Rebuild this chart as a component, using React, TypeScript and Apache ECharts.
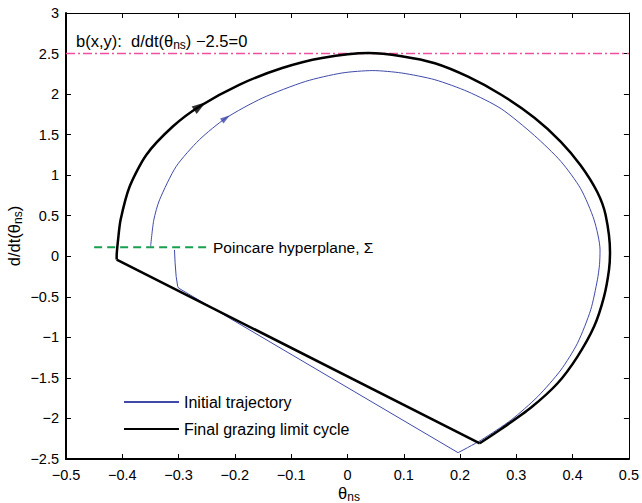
import React, { useEffect, useRef } from "react";
import * as echarts from "echarts";

// Final grazing limit cycle: curved arc (clockwise from bottom corner to left corner)
const limitArcX = [0.235, 0.2731, 0.3262, 0.3733, 0.4086, 0.4381, 0.4558, 0.4646, 0.4664, 0.4586, 0.444, 0.4144, 0.3791, 0.3321, 0.2731, 0.2142, 0.1553, 0.0963, 0.0374, -0.0452, -0.1159, -0.1924, -0.2631, -0.3103, -0.3574, -0.3869, -0.403, -0.4075, -0.41, -0.41];
const limitArcY = [-2.306, -2.13, -1.865, -1.566, -1.237, -0.867, -0.497, -0.168, 0.051, 0.508, 0.789, 1.119, 1.412, 1.708, 1.992, 2.214, 2.38, 2.467, 2.506, 2.445, 2.321, 2.115, 1.847, 1.6, 1.25, 0.86, 0.45, 0.203, 0.0, -0.04];
// Final grazing limit cycle: straight reset segment
const limitChordX = [-0.41, 0.235];
const limitChordY = [-0.04, -2.306];

// Initial trajectory: curved arc from the Poincare section around to the bottom corner
const trajArcX = [-0.3497, -0.344, -0.3338, -0.3043, -0.2631, -0.2159, -0.1512, -0.0746, -0.0098, 0.045, 0.0963, 0.1553, 0.2142, 0.2731, 0.332, 0.3791, 0.4144, 0.4381, 0.4487, 0.4478, 0.444, 0.4321, 0.4086, 0.3791, 0.3379, 0.2908, 0.2378, 0.1965];
const trajArcY = [0.121, 0.449, 0.696, 1.107, 1.437, 1.704, 1.951, 2.156, 2.26, 2.29, 2.26, 2.177, 2.029, 1.819, 1.49, 1.17, 0.832, 0.449, 0.076, -0.1, -0.291, -0.661, -1.072, -1.402, -1.731, -2.018, -2.265, -2.422];
// Initial trajectory: straight segment and short tail
const trajTailX = [0.1965, -0.2997, -0.3015, -0.3043, -0.3062, -0.3073];
const trajTailY = [-2.422, -0.394, -0.374, -0.25, -0.08, 0.079];

// Reference lines
const boundaryX = [-0.5, 0.5];
const boundaryY = [2.5, 2.5];
const poincareX = [-0.45, -0.25];
const poincareY = [0.11, 0.11];

// Direction arrows
const arrowBlackX = [-0.262];
const arrowBlackY = [1.85];
const arrowBlueX = [-0.216];
const arrowBlueY = [1.704];

const seriesNames = ["Initial trajectory", "Final grazing limit cycle"];

const FONT = "'Liberation Sans', Arial, Helvetica, sans-serif";
const BLUE = "#3f4aa8";
const PINK = "#ee4fa0";

const zip = (xs: number[], ys: number[]) => xs.map((x, i) => [x, ys[i]]);

const fmt = (v: number) => {
  const r = Math.round(v * 10) / 10;
  return r < 0 ? "\u2212" + String(-r) : String(r);
};

export default function App() {
  const ref = useRef<HTMLDivElement>(null);
  useEffect(() => {
    if (!ref.current) return;
    const chart = echarts.init(ref.current, undefined, { renderer: "svg" });
    const axisCommon = {
      type: "value" as const,
      splitLine: { show: false },
      axisTick: { show: true, inside: true, length: 5, lineStyle: { color: "#000", width: 1 } },
    };
    const rich = {
      a: { fontSize: 16.5, fontFamily: FONT, color: "#000" },
      s: { fontSize: 12, fontFamily: FONT, color: "#000", padding: [7, 0, 0, 0] },
    };
    chart.setOption({
      animation: false,
      backgroundColor: "#fff",
      textStyle: { fontFamily: FONT },
      grid: { left: 66, right: 10, top: 13, bottom: 44, containLabel: false },
      xAxis: [
        {
          ...axisCommon,
          min: -0.5,
          max: 0.5,
          interval: 0.1,
          position: "bottom",
          axisLine: { show: true, onZero: false, lineStyle: { color: "#000", width: 2 } },
          axisLabel: { show: true, color: "#000", fontSize: 14.5, margin: 8, formatter: fmt, showMinLabel: true, showMaxLabel: true },
        },
        {
          ...axisCommon,
          min: -0.5,
          max: 0.5,
          interval: 0.1,
          position: "top",
          axisLine: { show: true, onZero: false, lineStyle: { color: "#000", width: 1 } },
          axisLabel: { show: false },
        },
      ],
      yAxis: [
        {
          ...axisCommon,
          min: -2.5,
          max: 3,
          interval: 0.5,
          position: "left",
          axisLine: { show: true, onZero: false, lineStyle: { color: "#000", width: 2 } },
          axisLabel: { show: true, color: "#000", fontSize: 14.5, margin: 7, formatter: fmt, showMinLabel: true, showMaxLabel: true },
        },
        {
          ...axisCommon,
          min: -2.5,
          max: 3,
          interval: 0.5,
          position: "right",
          axisLine: { show: true, onZero: false, lineStyle: { color: "#000", width: 1 } },
          axisLabel: { show: false },
        },
      ],
      legend: {
        data: seriesNames,
        orient: "vertical",
        left: 118,
        top: 389,
        itemWidth: 55,
        itemHeight: 14,
        itemGap: 11,
        itemStyle: { opacity: 0 },
        textStyle: { fontSize: 16, color: "#000", fontFamily: FONT },
        selectedMode: false,
      },
      series: [
        {
          name: "boundary",
          type: "line",
          data: zip(boundaryX, boundaryY),
          symbol: "none",
          color: PINK,
          lineStyle: { color: PINK, width: 1.5, opacity: 1, type: [9, 3, 2, 3] },
          z: 3,
          silent: true,
        },
        {
          name: "poincare",
          type: "line",
          data: zip(poincareX, poincareY),
          symbol: "none",
          color: "#17a04f",
          lineStyle: { color: "#17a04f", width: 2, type: [8, 5] },
          silent: true,
        },
        {
          name: seriesNames[0],
          type: "line",
          data: zip(trajArcX, trajArcY),
          symbol: "none",
          smooth: 0.25,
          color: BLUE,
          lineStyle: { color: BLUE, width: 1 },
        },
        {
          name: seriesNames[0],
          type: "line",
          data: zip(trajTailX, trajTailY),
          symbol: "none",
          color: BLUE,
          lineStyle: { color: BLUE, width: 1 },
        },
        {
          name: seriesNames[1],
          type: "line",
          data: zip(limitArcX, limitArcY),
          symbol: "none",
          smooth: 0.25,
          color: "#000",
          lineStyle: { color: "#000", width: 2.5 },
        },
        {
          name: seriesNames[1],
          type: "line",
          data: zip(limitChordX, limitChordY),
          symbol: "none",
          color: "#000",
          lineStyle: { color: "#000", width: 2.5 },
        },
        {
          name: "arrowBlack",
          type: "scatter",
          data: zip(arrowBlackX, arrowBlackY),
          symbol: "triangle",
          symbolSize: [9, 14],
          symbolRotate: -56,
          itemStyle: { color: "#000" },
          silent: true,
        },
        {
          name: "arrowBlue",
          type: "scatter",
          data: zip(arrowBlueX, arrowBlueY),
          symbol: "triangle",
          symbolSize: [6, 10],
          symbolRotate: -55,
          itemStyle: { color: BLUE },
          silent: true,
        },
      ],
      graphic: [
        {
          type: "text",
          x: 76,
          y: 41,
          style: {
            text: "{a|b(x,y):  d/dt(\u03b8}{s|ns}{a|) \u22122.5=0}",
            rich,
            verticalAlign: "middle",
            align: "left",
          },
        },
        {
          type: "text",
          x: 213,
          y: 247,
          style: {
            text: "Poincare hyperplane, \u03a3",
            fontSize: 15.5,
            fontFamily: FONT,
            fill: "#000",
            verticalAlign: "middle",
            align: "left",
          },
        },
        {
          type: "text",
          x: 14,
          y: 236,
          rotation: Math.PI / 2,
          style: {
            text: "{a|d/dt(\u03b8}{s|ns}{a|)}",
            rich,
            verticalAlign: "middle",
            align: "center",
          },
        },
        {
          type: "text",
          x: 349,
          y: 493,
          style: {
            text: "{a|\u03b8}{s|ns}",
            rich,
            verticalAlign: "middle",
            align: "center",
          },
        },
      ],
    });
    return () => chart.dispose();
  }, []);
  return (
    <div
      ref={ref}
      style={{ position: "fixed", left: 0, top: 0, width: 642, height: 503, background: "#fff" }}
    />
  );
}
